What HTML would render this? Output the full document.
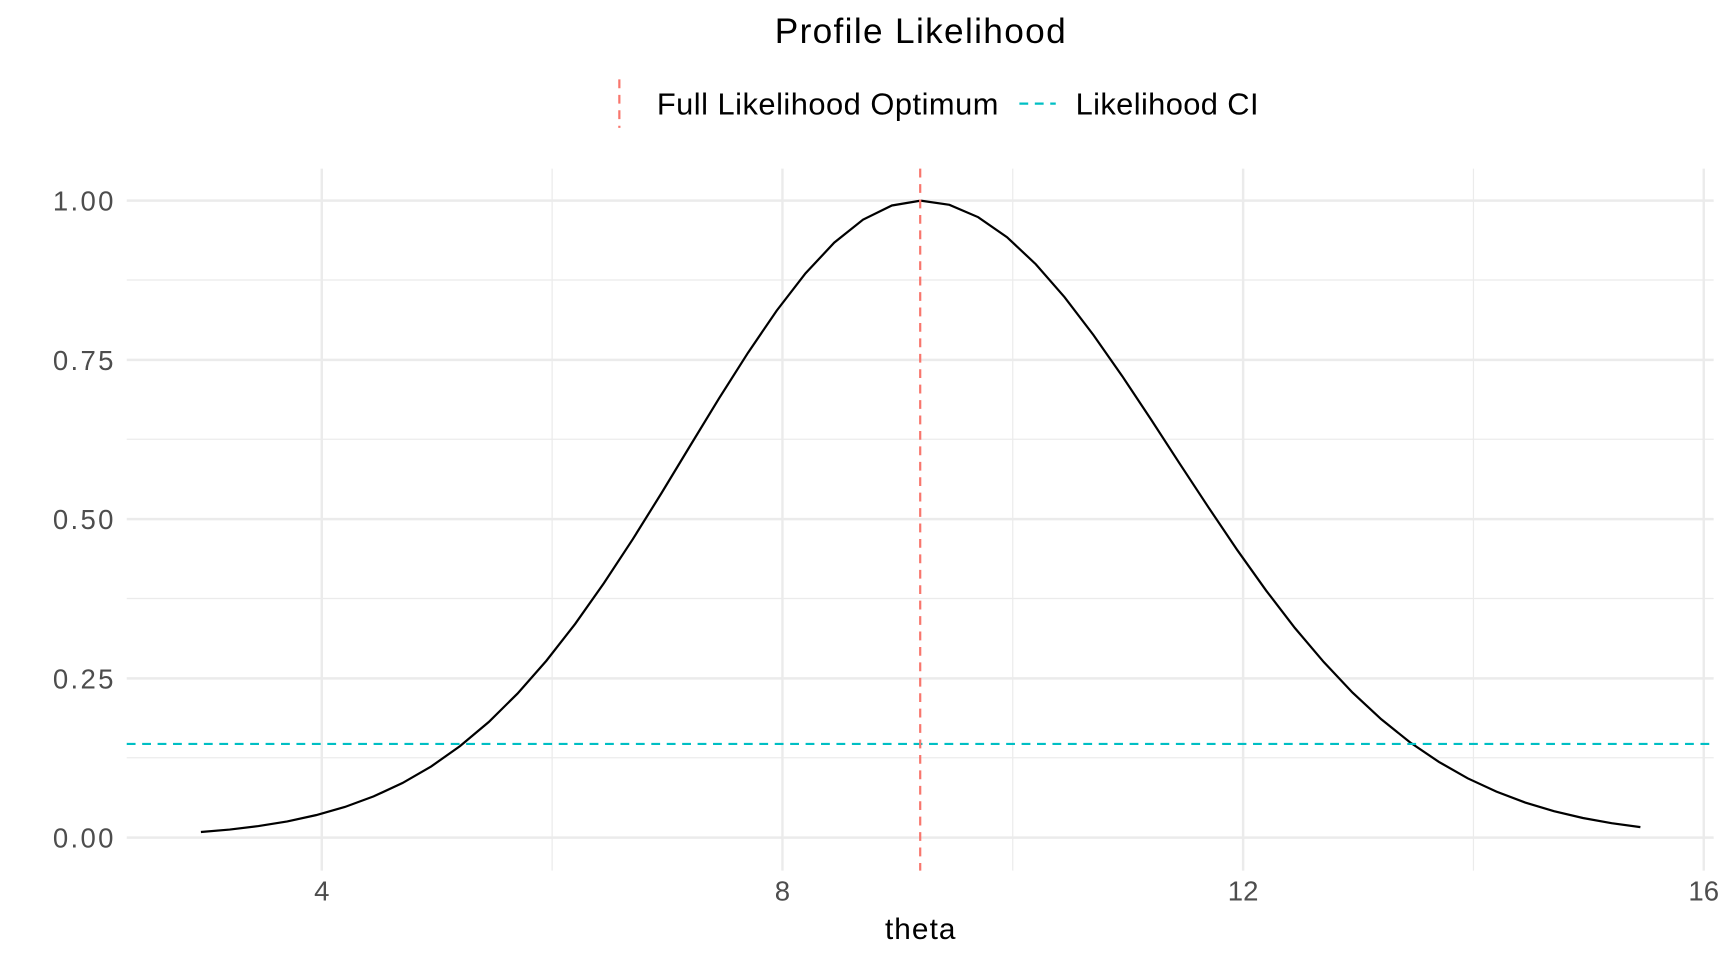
<!DOCTYPE html>
<html><head><meta charset="utf-8"><style>html,body{margin:0;padding:0;background:#fff;}svg{display:block;}</style></head>
<body>
<svg id="s" width="1728" height="960" viewBox="0 0 1568 871" xmlns="http://www.w3.org/2000/svg" font-family="Liberation Sans, Arial, sans-serif">
<rect width="1568" height="871" fill="#fff"/>
<g stroke="#ebebeb" stroke-width="1.1">
<line x1="115" x2="1555" y1="254" y2="254"/><line x1="115" x2="1555" y1="398.5" y2="398.5"/><line x1="115" x2="1555" y1="543" y2="543"/><line x1="115" x2="1555" y1="687.5" y2="687.5"/>
<line x1="501" x2="501" y1="153" y2="790"/><line x1="919" x2="919" y1="153" y2="790"/><line x1="1337" x2="1337" y1="153" y2="790"/>
</g>
<g stroke="#ebebeb" stroke-width="2.2">
<line x1="115" x2="1555" y1="182" y2="182"/><line x1="115" x2="1555" y1="326.5" y2="326.5"/><line x1="115" x2="1555" y1="471" y2="471"/><line x1="115" x2="1555" y1="615.5" y2="615.5"/><line x1="115" x2="1555" y1="760" y2="760"/>
<line x1="292" x2="292" y1="153" y2="790"/><line x1="710" x2="710" y1="153" y2="790"/><line x1="1128" x2="1128" y1="153" y2="790"/><line x1="1546" x2="1546" y1="153" y2="790"/>
</g>
<path id="c" fill="none" stroke="#000" stroke-width="2"/>
<line x1="115" x2="1555" y1="675" y2="675" stroke="#00bfc4" stroke-width="2" stroke-dasharray="8,6"/>
<line x1="835" x2="835" y1="153" y2="790" stroke="#f8766d" stroke-width="2" stroke-dasharray="8,6"/>
<g fill="#4d4d4d" font-size="25" text-anchor="end">
<text x="103" y="191" textLength="55">1.00</text><text x="103" y="335.5" textLength="55">0.75</text><text x="103" y="480" textLength="55">0.50</text><text x="103" y="624.5" textLength="55">0.25</text><text x="103" y="769" textLength="55">0.00</text>
</g>
<g fill="#4d4d4d" font-size="25" text-anchor="middle">
<text x="292" y="817">4</text><text x="710" y="817">8</text><text x="1128" y="817">12</text><text x="1546" y="817">16</text>
</g>
<text x="803" y="852" font-size="27" fill="#000" textLength="64">theta</text>
<text x="703" y="39" font-size="32" fill="#000" textLength="264">Profile Likelihood</text>
<line x1="562" x2="562" y1="72" y2="116" stroke="#f8766d" stroke-width="2" stroke-dasharray="8,6"/>
<text x="596" y="104" font-size="28" fill="#000" textLength="310">Full Likelihood Optimum</text>
<line x1="925" x2="958" y1="94" y2="94" stroke="#00bfc4" stroke-width="2" stroke-dasharray="8,6"/>
<text x="976" y="104" font-size="28" fill="#000" textLength="166">Likelihood CI</text>
</svg>
<script>
var d="",m=9.2;
for(var t=2.95;t<=15.46;t+=0.25){var s=t<m?2.03:2.18;var v=Math.exp(-(t-m)*(t-m)/(2*s*s));
var x=292+(t-4)*104.5,y=760-v*578;d+=(d?"L":"M")+x.toFixed(1)+","+y.toFixed(1);}
document.getElementById("c").setAttribute("d",d);
</script>
</body></html>
